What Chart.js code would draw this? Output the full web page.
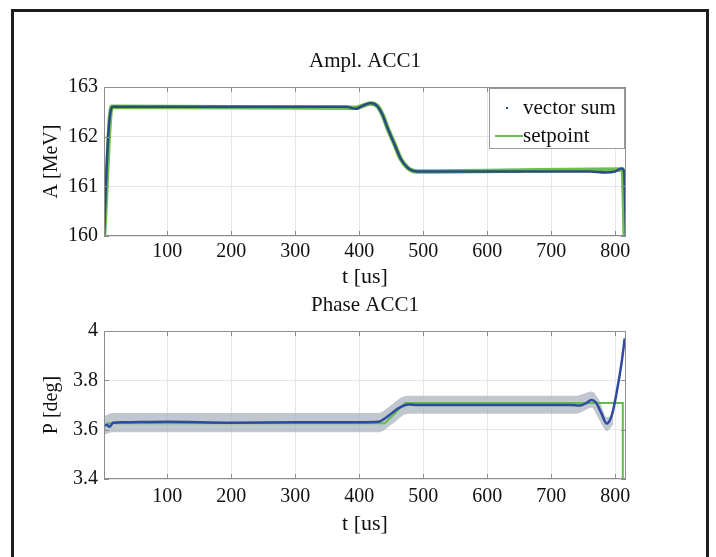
<!DOCTYPE html>
<html>
<head>
<meta charset="utf-8">
<script src="https://cdn.jsdelivr.net/npm/chart.js@4/dist/chart.umd.min.js"></script>
<style>
  html, body { margin: 0; padding: 0; background: #fff; overflow: hidden; width: 716px; height: 557px; }
  #frame { position: absolute; left: 11px; top: 9px; width: 692px; height: 600px; border: 3px solid #1d1d1d; border-bottom: none; }
  canvas { position: absolute; left: 0; }
  #cAmp { top: 0; }
  #cPh { top: 290px; }
</style>
</head>
<body>
<div id="frame"></div>
<canvas id="cAmp" width="716" height="290"></canvas>
<canvas id="cPh" width="716" height="267"></canvas>
<script>
// ---- data ----
const xTicks = [100, 200, 300, 400, 500, 600, 700, 800];
const ampTicks = [160, 161, 162, 163];
const phTicks = [3.4, 3.6, 3.8, 4];

// Ampl. ACC1
const tAmp   = [1, 4, 8, 12, 15, 50, 100, 150, 200, 250, 300, 350, 380, 395, 405, 418, 428, 436, 445, 455, 465, 475, 482, 490, 520, 600, 700, 760, 785, 800, 810, 814, 816, 817];
const ampVec = [160.0, 161.0, 162.1, 162.55, 162.6, 162.6, 162.6, 162.6, 162.6, 162.6, 162.6, 162.6, 162.6, 162.56, 162.62, 162.68, 162.62, 162.45, 162.15, 161.85, 161.55, 161.38, 161.32, 161.3, 161.3, 161.3, 161.3, 161.3, 161.28, 161.3, 161.36, 161.3, 160.5, 160.0];
const tAmpSet = [1, 13, 395, 405, 418, 428, 436, 445, 455, 465, 475, 482, 490, 812, 815];
const ampSet  = [160.0, 162.6, 162.58, 162.62, 162.67, 162.62, 162.45, 162.15, 161.85, 161.55, 161.38, 161.32, 161.3, 161.34, 160.0];

// Phase ACC1
const tPh   = [1, 5, 10, 15, 30, 100, 200, 300, 400, 430, 440, 450, 460, 470, 478, 490, 550, 650, 730, 745, 755, 763, 770, 778, 787, 795, 803, 810, 815];
const phVec = [3.615, 3.62, 3.612, 3.628, 3.63, 3.632, 3.628, 3.63, 3.63, 3.632, 3.645, 3.665, 3.685, 3.698, 3.702, 3.70, 3.70, 3.70, 3.70, 3.698, 3.708, 3.72, 3.71, 3.67, 3.625, 3.66, 3.76, 3.87, 3.97];
const tPhSet = [5, 440, 472, 812, 812];
const phSet  = [3.626, 3.626, 3.708, 3.708, 3.4];
const tBand  = [1, 15, 430, 440, 450, 460, 470, 480, 740, 750, 763, 775, 787, 797];
const phHi   = [3.655, 3.668, 3.668, 3.68, 3.70, 3.72, 3.735, 3.738, 3.738, 3.745, 3.755, 3.72, 3.65, 3.66];
const phLo   = [3.58, 3.59, 3.59, 3.60, 3.62, 3.64, 3.66, 3.665, 3.665, 3.675, 3.69, 3.64, 3.595, 3.62];

const FONT = '"Liberation Serif", "Times New Roman", serif';
const INK = '#111';

function pts(xs, ys) { return xs.map((x, i) => ({ x: x, y: ys[i] })); }

// plot box outline + small inward ticks, matlab style
const frameTicks = {
  id: 'frameTicks',
  afterDatasetsDraw(chart) {
    const { ctx, chartArea: a, scales } = chart;
    ctx.save();
    ctx.strokeStyle = '#8d8d8d'; ctx.lineWidth = 1;
    ctx.strokeRect(a.left + 0.5, a.top + 0.5, a.width - 1, a.height - 1);
    ctx.beginPath();
    scales.x.ticks.forEach(t => {
      const px = Math.round(scales.x.getPixelForValue(t.value)) + 0.5;
      ctx.moveTo(px, a.bottom); ctx.lineTo(px, a.bottom - 5);
      ctx.moveTo(px, a.top); ctx.lineTo(px, a.top + 5);
    });
    scales.y.ticks.forEach(t => {
      const py = Math.round(scales.y.getPixelForValue(t.value)) + 0.5;
      ctx.moveTo(a.left, py); ctx.lineTo(a.left + 5, py);
      ctx.moveTo(a.right, py); ctx.lineTo(a.right - 5, py);
    });
    ctx.stroke();
    ctx.restore();
  }
};

const legendBox = {
  id: 'legendBox',
  afterDraw(chart) {
    const { ctx, chartArea: a } = chart;
    const ds = chart.data.datasets;
    const w = 136, h = 61, x = a.right - w - 1, y = a.top + 1;
    ctx.save();
    ctx.fillStyle = '#fff'; ctx.fillRect(x, y, w, h);
    ctx.strokeStyle = '#9a9a9a'; ctx.lineWidth = 1;
    ctx.strokeRect(x + 0.5, y + 0.5, w - 1, h - 1);
    ctx.font = '21px ' + FONT; ctx.textBaseline = 'middle';
    ctx.fillStyle = ds[0].borderColor; ctx.fillRect(x + 17, y + 19, 2, 2);
    ctx.fillStyle = INK; ctx.fillText(ds[0].label, x + 34, y + 20);
    ctx.strokeStyle = ds[1].borderColor; ctx.lineWidth = 2;
    ctx.beginPath(); ctx.moveTo(x + 6, y + 48); ctx.lineTo(x + 34, y + 48); ctx.stroke();
    ctx.fillText(ds[1].label, x + 34, y + 48);
    ctx.restore();
  }
};

function mkOpts(p) {
  return {
    responsive: false, animation: false, devicePixelRatio: 1,
    layout: { padding: { left: 0, right: 90, top: 0, bottom: 0 } },
    plugins: { legend: { display: false }, tooltip: { enabled: false }, title: { display: false } },
    elements: { point: { radius: 0 } },
    scales: {
      x: {
        type: 'linear', min: 1, max: 817,
        afterBuildTicks: s => { s.ticks = xTicks.map(v => ({ value: v })); },
        afterFit: s => { s.height = p.xH; },
        grid: { color: '#e6e6e6', drawTicks: false },
        border: { display: false },
        ticks: { color: INK, font: { family: FONT, size: 20 }, padding: p.xPad, maxRotation: 0, autoSkip: false },
        title: { display: true, text: 't [us]', color: INK, font: { family: FONT, size: 22 }, padding: { top: 0, bottom: p.xTitlePad } }
      },
      top: {
        type: 'linear', position: 'top', min: 0, max: 1,
        afterFit: s => { s.height = p.topH; },
        ticks: { display: false },
        grid: { display: false, drawTicks: false },
        border: { display: false },
        title: { display: true, text: p.title, color: INK, font: { family: FONT, size: 21 }, padding: { top: p.titlePad, bottom: 0 } }
      },
      y: {
        type: 'linear', min: p.yMin, max: p.yMax,
        afterBuildTicks: s => { s.ticks = p.yTicks.map(v => ({ value: v })); },
        afterFit: s => { s.width = 104; },
        grid: { color: '#e6e6e6', drawTicks: false },
        border: { display: false },
        ticks: { color: INK, font: { family: FONT, size: 20 }, padding: 6, callback: v => String(v) },
        title: { display: true, text: p.yTitle, color: INK, font: { family: FONT, size: 20 }, padding: { top: 40, bottom: 0 } }
      }
    }
  };
}

new Chart(document.getElementById('cAmp'), {
  type: 'line',
  data: {
    datasets: [
      { label: 'vector sum', data: pts(tAmp, ampVec), borderColor: '#2b4c82', borderWidth: 2.5, cubicInterpolationMode: 'monotone' },
      { label: 'setpoint', data: pts(tAmpSet, ampSet), borderColor: '#6cbf4e', borderWidth: 4.5, cubicInterpolationMode: 'monotone' }
    ]
  },
  options: mkOpts({ title: 'Ampl. ACC1', yTitle: 'A [MeV]', yMin: 160, yMax: 163, yTicks: ampTicks,
                    topH: 87, titlePad: 49, xH: 54, xPad: 4, xTitlePad: 0 }),
  plugins: [frameTicks, legendBox]
});

new Chart(document.getElementById('cPh'), {
  type: 'line',
  data: {
    datasets: [
      { label: 'vector sum', data: pts(tPh, phVec), borderColor: '#2f4aa0', borderWidth: 2.5, cubicInterpolationMode: 'monotone' },
      { label: 'setpoint', data: pts(tPhSet, phSet), borderColor: '#5fbf48', borderWidth: 2 },
      { label: 'band hi', data: pts(tBand, phHi), borderWidth: 0, borderColor: 'rgba(0,0,0,0)', backgroundColor: 'rgba(165,175,185,0.7)', fill: '+1', cubicInterpolationMode: 'monotone' },
      { label: 'band lo', data: pts(tBand, phLo), borderWidth: 0, borderColor: 'rgba(0,0,0,0)', fill: false, cubicInterpolationMode: 'monotone' }
    ]
  },
  options: mkOpts({ title: 'Phase ACC1', yTitle: 'P [deg]', yMin: 3.4, yMax: 4, yTicks: phTicks,
                    topH: 41, titlePad: 3, xH: 78, xPad: 6, xTitlePad: 20 }),
  plugins: [frameTicks]
});
</script>
</body>
</html>
